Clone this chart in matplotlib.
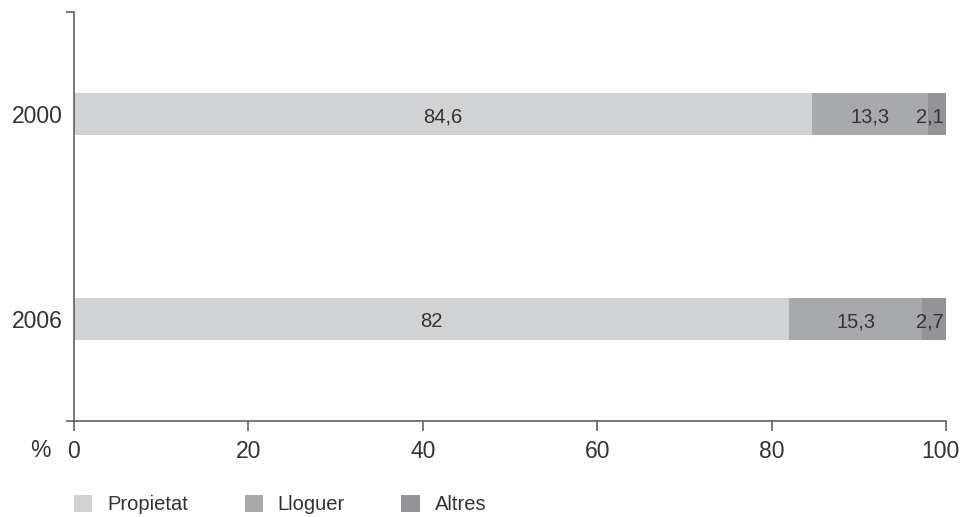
import matplotlib
matplotlib.use("Agg")
import matplotlib.pyplot as plt
import matplotlib.transforms as mtransforms

plt.rcParams["font.family"] = ["Liberation Sans", "DejaVu Sans"]

years = ["2000", "2006"]
categories = ["Propietat", "Lloguer", "Altres"]
propietat = [84.6, 82]
lloguer = [13.3, 15.3]
altres = [2.1, 2.7]
labels = {
    "Propietat": ["84,6", "82"],
    "Lloguer": ["13,3", "15,3"],
    "Altres": ["2,1", "2,7"],
}
colors = {
    "Propietat": "#d1d2d4",
    "Lloguer": "#a8a9ac",
    "Altres": "#929497",
}
text_color = "#333333"
axis_color = "#555555"

fig = plt.figure(figsize=(9.62, 5.17), dpi=100)
ax = fig.add_axes([0.0769, 0.1857, 0.9065, 0.7911])

ypos = list(range(len(years)))
left = [0.0] * len(years)
for cat, vals in zip(categories, [propietat, lloguer, altres]):
    ax.barh(ypos, vals, left=left, height=0.205, color=colors[cat],
            label=cat, linewidth=0)
    for i, v in enumerate(vals):
        if cat == "Altres":
            # thin segment: keep the label inside the chart
            ax.text(99.7, ypos[i] + 0.015, labels[cat][i],
                    ha="right", va="center", fontsize=14.5, color=text_color)
        else:
            ax.text(left[i] + v / 2, ypos[i] + 0.015, labels[cat][i],
                    ha="center", va="center", fontsize=14.5, color=text_color)
    left = [l + v for l, v in zip(left, vals)]

ax.set_xlim(0, 100)
ax.set_ylim(1.5, -0.5)

for s in ["top", "right"]:
    ax.spines[s].set_visible(False)
for s in ["left", "bottom"]:
    ax.spines[s].set_color(axis_color)
    ax.spines[s].set_linewidth(1.1)

ax.set_xticks([0, 20, 40, 60, 80, 100])
ax.tick_params(axis="x", direction="out", length=7, width=1.1,
               color=axis_color, labelsize=16.5, labelcolor=text_color, pad=7)
last = ax.get_xticklabels()[-1]
last.set_transform(last.get_transform() +
                   mtransforms.ScaledTranslation(-6 / 100, 0, fig.dpi_scale_trans))

ax.set_yticks(ypos)
ax.set_yticklabels(years)
ax.tick_params(axis="y", which="major", length=0, labelsize=16.5,
               labelcolor=text_color, pad=8)
ax.set_yticks([-0.5, 1.5], minor=True)
ax.tick_params(axis="y", which="minor", direction="out", length=6,
               width=1.1, color=axis_color)

fig.text(40 / 962, 1 - 457 / 517, "%", ha="center", va="baseline",
         fontsize=16.5, color=text_color)

fig.legend(loc="center left", bbox_to_anchor=(0.0666, 0.024), ncol=3,
           frameon=False, fontsize=14.5, handlelength=0.9, handleheight=0.9,
           handletextpad=0.75, columnspacing=2.8, borderpad=0,
           labelcolor=text_color)

fig.savefig("out.png", dpi=100)
